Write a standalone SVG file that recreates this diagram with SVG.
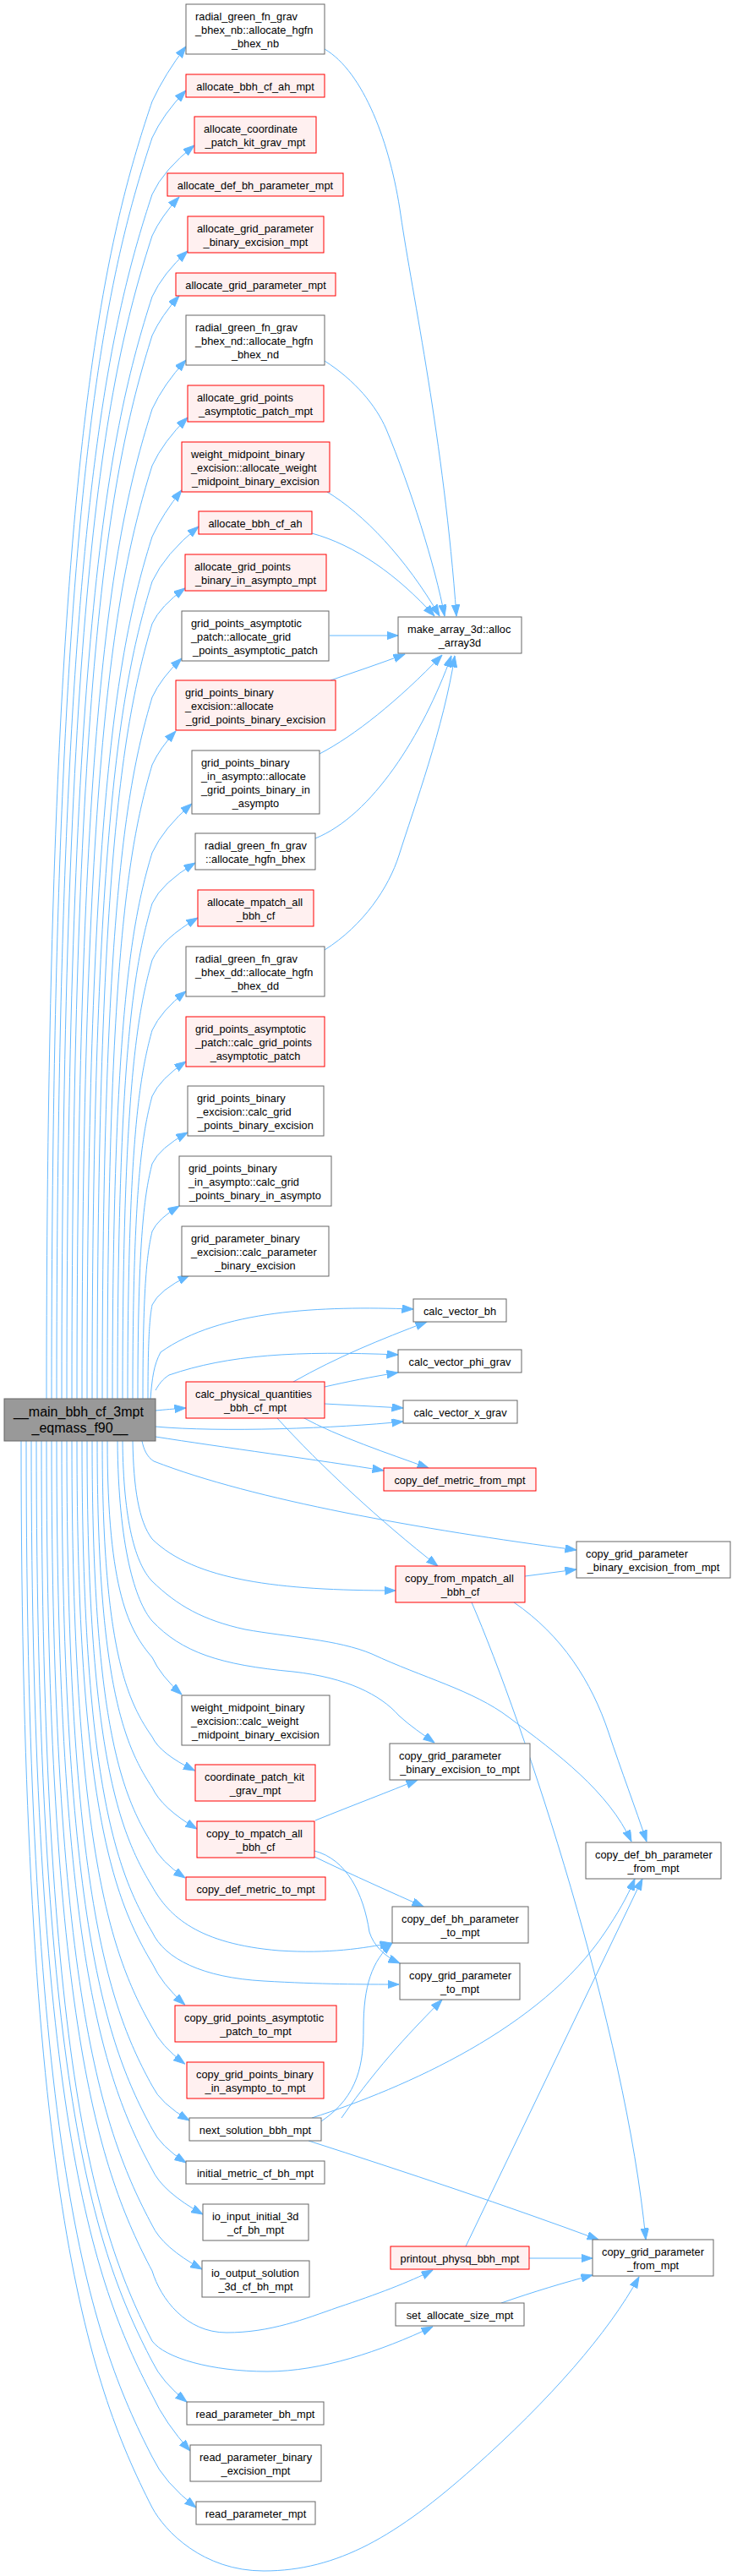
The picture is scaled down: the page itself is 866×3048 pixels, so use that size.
<svg xmlns="http://www.w3.org/2000/svg" width="866" height="3048" viewBox="0 0 866 3048">
<style>
.w{fill:#ffffff;stroke:#666666;stroke-width:1}
.r{fill:#fff0f0;stroke:#ff0000;stroke-width:1}
.m{fill:#999999;stroke:#666666;stroke-width:1}
text{font-family:"Liberation Sans",Arial,Helvetica,sans-serif;font-size:12.8px;fill:#000000}
.c{text-anchor:middle}
.big{font-size:16px}
.e path{fill:none;stroke:#63b8ff;stroke-width:1;marker-end:url(#a)}
</style>
<defs>
<marker id="a" markerWidth="14" markerHeight="10" refX="13.5" refY="4.75" orient="auto" markerUnits="userSpaceOnUse">
<path d="M0,0 L13.5,4.75 L0,9.5 z" fill="#63b8ff" stroke="#63b8ff" stroke-width="1"/>
</marker>
</defs>
<rect width="866" height="3048" fill="#ffffff"/>
<g class="e" id="edges">
<path d="M55,1655 C55,580.5 117.5,304.2 180,120 Q195,87.5 220,55"/>
<path d="M61,1655 C61,610.6 120.5,342 180,163 Q192.9,135 220,107"/>
<path d="M67,1655 C67,657.5 123.5,401 180,230 Q193.3,201 230,172"/>
<path d="M73,1655 C73,691.8 126.5,444.1 180,279 Q190.6,256 212,233"/>
<path d="M79,1655 C79,742.2 129.5,507.5 180,351 Q192.4,324 222,297"/>
<path d="M85,1655 C85,774.4 132.5,548 180,397 Q190.8,373.5 212,350"/>
<path d="M91,1655 C91,835.3 135.5,624.5 180,484 Q193.3,455 220,426"/>
<path d="M97,1655 C97,882.2 138.5,683.5 180,551 Q193.1,522.5 222,494"/>
<path d="M103,1655 C103,941 141.5,757.4 180,635 Q192.7,607.5 215,580"/>
<path d="M109,1655 C109,978.1 144.5,804 180,688 Q195,655.5 235,623"/>
<path d="M115,1655 C115,1013.1 147.5,848 180,738 Q189.7,717 219,696"/>
<path d="M121,1655 C121,1074 150.5,924.6 180,825 Q190.6,802 215,779"/>
<path d="M127,1655 C127,1130 153.5,995 180,905 Q189.2,885 208,865"/>
<path d="M133,1655 C133,1202.8 156.5,1086.5 180,1009 Q193.3,980 227,951"/>
<path d="M139,1655 C139,1244.8 159.5,1139.3 180,1069 Q191,1045 231,1021"/>
<path d="M145,1655 C145,1291.7 162.5,1198.3 180,1136 Q191.5,1111 234,1086"/>
<path d="M151,1655 C151,1349.8 165.5,1271.3 180,1219 Q190.6,1196 220,1173"/>
<path d="M157,1655 C157,1404.4 168.5,1340 180,1297 Q189.4,1276.5 220,1256"/>
<path d="M163,1655 C163,1460.4 171.5,1410.4 180,1377 Q188.5,1358.5 222,1340"/>
<path d="M169,1655 C169,1516.4 174.5,1480.8 180,1457 Q186.9,1442 212,1427"/>
<path d="M175,1655 C175,1577.3 177.5,1557.3 180,1544 Q188,1526.5 224,1509"/>
<path d="M178,1655 C180,1630 182,1615 190,1600 C260,1550 380,1545 489,1549"/>
<path d="M184,1645 C188,1638 192,1632 200,1627 C270,1603 350,1598 471,1603"/>
<path d="M184,1669 C195,1668 205,1667 220,1666"/>
<path d="M184,1688 C260,1695 400,1690 477,1682"/>
<path d="M184,1700 C260,1712 380,1728 454,1740"/>
<path d="M168,1705 C170,1715 174,1724 182,1729 C300,1775 500,1810 682,1834"/>
<path d="M157,1705 C158,1760 164,1800 180,1821 C230,1870 330,1882 468,1882"/>
<path d="M145,1705 C146,1800 160,1850 180,1871 C210,1900 240,1917 290,1928 C340,1937 400,1940 440,1957 C500,1985 560,2000 602,2032 C660,2075 720,2120 747,2179"/>
<path d="M139,1705 C140,1830 160,1895 180,1918 C215,1955 260,1970 347,1978 C410,1985 450,2005 472,2030 C485,2042 500,2052 514,2062"/>
<path d="M127,1705 C127,1884.2 153.5,1930.3 180,1961 Q190.1,1983 215,2005"/>
<path d="M121,1705 C121,1950 150.5,2013 180,2055 Q189.2,2075 230.5,2095"/>
<path d="M115,1705 C115,1992 147.5,2065.8 180,2115 Q191.3,2139.5 233,2164"/>
<path d="M109,1705 C109,2038.9 144.5,2124.8 180,2182 Q189.2,2202 219,2222"/>
<path d="M103,1705 C103,2073.9 141.5,2168.8 180,2232 C200,2268 235,2300 330,2308 C390,2312 430,2305 463,2299"/>
<path d="M97,1705 C97,2111.7 138.5,2216.3 180,2286 C195,2318 240,2340 312,2344 C380,2348 430,2348 472,2348"/>
<path d="M91,1705 C91,2137.6 135.5,2248.8 180,2323 Q191.3,2347.5 218.7,2372"/>
<path d="M85,1705 C85,2190.8 132.5,2315.7 180,2399 Q189.9,2420.5 218.7,2442"/>
<path d="M79,1705 C79,2239.1 129.5,2376.4 180,2468 Q189.4,2488.5 224,2509"/>
<path d="M73,1705 C73,2274.8 126.5,2421.3 180,2519 Q189.2,2539 220,2559"/>
<path d="M67,1705 C67,2308.4 123.5,2463.6 180,2567 Q192.2,2593.5 240,2620"/>
<path d="M61,1705 C61,2354.6 120.5,2521.6 180,2633 Q192,2659 239,2685"/>
<path d="M55,1705 C55,2392.4 117.5,2569.2 180,2687 C190,2720 220,2760 268,2760 C320,2760 360,2744 400,2730 C445,2715 485,2700 512,2686"/>
<path d="M49,1705 C49,2450.5 114.5,2642.2 180,2770 C195,2790 250,2806 316,2806 C380,2806 450,2782 512,2753"/>
<path d="M43,1705 C43,2467.3 111.5,2663.3 180,2794 Q191,2818 221,2842"/>
<path d="M37,1705 C37,2495.3 108.5,2698.5 180,2834 Q195.2,2867 225,2900"/>
<path d="M31,1705 C31,2546.4 105.5,2762.8 180,2907 Q193.8,2937 232,2967"/>
<path d="M25,1705 C25,2588.4 102.5,2815.6 180,2967 C195,2995 240,3042 312,3042 C400,3042 470,3000 560,2920 C650,2840 720,2760 756,2694"/>
<path d="M384,58 C430,85 462,170 474,254 C488,350 525,520 540,729"/>
<path d="M384,427 C420,450 445,480 457,508 C485,575 515,670 526,729"/>
<path d="M387,582 C430,608 480,660 520,729"/>
<path d="M369,631 C420,645 470,680 514,729"/>
<path d="M390,752 L471,752"/>
<path d="M391,805 C420,795 450,785 479,774"/>
<path d="M378,892 C420,870 470,830 523,775"/>
<path d="M373,992 C440,965 500,870 534,776"/>
<path d="M384,1124 C430,1095 460,1050 472,1012 C490,955 525,860 538,776"/>
<path d="M347,1635 C400,1605 450,1585 505,1564"/>
<path d="M384,1641 C410,1635 440,1629 471,1624"/>
<path d="M384,1661 L477,1666"/>
<path d="M358,1677 C400,1700 460,1720 507,1737"/>
<path d="M327,1677 C380,1735 450,1800 518,1853"/>
<path d="M621,1865 L682,1857"/>
<path d="M608,1896 C665,1935 700,1990 720,2050 C735,2095 752,2140 765,2179"/>
<path d="M558,1896 C620,2040 740,2400 764,2650"/>
<path d="M373,2154 C420,2135 460,2120 494,2106"/>
<path d="M372,2197 C420,2220 465,2240 501,2256"/>
<path d="M372,2190 C410,2200 430,2240 437,2286 C442,2302 455,2315 473,2323"/>
<path d="M380,2510 C425,2480 430,2440 430,2400 C430,2350 440,2320 464,2299"/>
<path d="M404,2506 C450,2440 490,2400 523,2366"/>
<path d="M369,2506 C480,2470 640,2400 716,2286 C730,2265 742,2245 751,2223"/>
<path d="M365,2533 C480,2570 600,2610 708,2650"/>
<path d="M551,2658 L760,2223"/>
<path d="M626,2672 L701,2672"/>
<path d="M593,2725 C630,2712 670,2700 701,2692"/>
</g>
<g id="main"><rect class="m" x="5" y="1655" width="179" height="50"/><text class="big" x="16" y="1676">__main_bbh_cf_3mpt</text><text class="c big" x="94.5" y="1695">_eqmass_f90__</text></g>
<g id="n1"><rect class="w" x="220" y="5" width="164" height="59"/><text x="231" y="23.5">radial_green_fn_grav</text><text x="231" y="39.5">_bhex_nb::allocate_hgfn</text><text class="c" x="302" y="55.5">_bhex_nb</text></g>
<g id="n2"><rect class="r" x="220" y="88" width="164" height="27"/><text class="c" x="302" y="106.5">allocate_bbh_cf_ah_mpt</text></g>
<g id="n3"><rect class="r" x="230" y="138" width="144" height="43"/><text x="241" y="156.5">allocate_coordinate</text><text class="c" x="302" y="172.5">_patch_kit_grav_mpt</text></g>
<g id="n4"><rect class="r" x="198" y="205" width="208" height="27"/><text class="c" x="302" y="223.5">allocate_def_bh_parameter_mpt</text></g>
<g id="n5"><rect class="r" x="222" y="256" width="161" height="43"/><text x="233" y="274.5">allocate_grid_parameter</text><text class="c" x="302.5" y="290.5">_binary_excision_mpt</text></g>
<g id="n6"><rect class="r" x="208" y="323" width="189" height="27"/><text class="c" x="302.5" y="341.5">allocate_grid_parameter_mpt</text></g>
<g id="n7"><rect class="w" x="220" y="373" width="164" height="59"/><text x="231" y="391.5">radial_green_fn_grav</text><text x="231" y="407.5">_bhex_nd::allocate_hgfn</text><text class="c" x="302" y="423.5">_bhex_nd</text></g>
<g id="n8"><rect class="r" x="222" y="456" width="161" height="43"/><text x="233" y="474.5">allocate_grid_points</text><text class="c" x="302.5" y="490.5">_asymptotic_patch_mpt</text></g>
<g id="n9"><rect class="r" x="215" y="523" width="175" height="59"/><text x="226" y="541.5">weight_midpoint_binary</text><text x="226" y="557.5">_excision::allocate_weight</text><text class="c" x="302.5" y="573.5">_midpoint_binary_excision</text></g>
<g id="n10"><rect class="r" x="235" y="605" width="134" height="27"/><text class="c" x="302" y="623.5">allocate_bbh_cf_ah</text></g>
<g id="n11"><rect class="r" x="219" y="656" width="167" height="43"/><text x="230" y="674.5">allocate_grid_points</text><text class="c" x="302.5" y="690.5">_binary_in_asympto_mpt</text></g>
<g id="n12"><rect class="w" x="215" y="723" width="174" height="59"/><text x="226" y="741.5">grid_points_asymptotic</text><text x="226" y="757.5">_patch::allocate_grid</text><text class="c" x="302" y="773.5">_points_asymptotic_patch</text></g>
<g id="mk"><rect class="w" x="471" y="730" width="146" height="43"/><text x="482" y="748.5">make_array_3d::alloc</text><text class="c" x="544" y="764.5">_array3d</text></g>
<g id="n13"><rect class="r" x="208" y="805" width="189" height="59"/><text x="219" y="823.5">grid_points_binary</text><text x="219" y="839.5">_excision::allocate</text><text class="c" x="302.5" y="855.5">_grid_points_binary_excision</text></g>
<g id="n14"><rect class="w" x="227" y="888" width="151" height="75"/><text x="238" y="906.5">grid_points_binary</text><text x="238" y="922.5">_in_asympto::allocate</text><text x="238" y="938.5">_grid_points_binary_in</text><text class="c" x="302.5" y="954.5">_asympto</text></g>
<g id="n15"><rect class="w" x="231" y="986" width="142" height="43"/><text x="242" y="1004.5">radial_green_fn_grav</text><text class="c" x="302" y="1020.5">::allocate_hgfn_bhex</text></g>
<g id="n16"><rect class="r" x="234" y="1053" width="137" height="43"/><text x="245" y="1071.5">allocate_mpatch_all</text><text class="c" x="302.5" y="1087.5">_bbh_cf</text></g>
<g id="n17"><rect class="w" x="220" y="1120" width="164" height="59"/><text x="231" y="1138.5">radial_green_fn_grav</text><text x="231" y="1154.5">_bhex_dd::allocate_hgfn</text><text class="c" x="302" y="1170.5">_bhex_dd</text></g>
<g id="n18"><rect class="r" x="220" y="1203" width="164" height="59"/><text x="231" y="1221.5">grid_points_asymptotic</text><text x="231" y="1237.5">_patch::calc_grid_points</text><text class="c" x="302" y="1253.5">_asymptotic_patch</text></g>
<g id="n19"><rect class="w" x="222" y="1285" width="161" height="59"/><text x="233" y="1303.5">grid_points_binary</text><text x="233" y="1319.5">_excision::calc_grid</text><text class="c" x="302.5" y="1335.5">_points_binary_excision</text></g>
<g id="n20"><rect class="w" x="212" y="1368" width="180" height="59"/><text x="223" y="1386.5">grid_points_binary</text><text x="223" y="1402.5">_in_asympto::calc_grid</text><text class="c" x="302" y="1418.5">_points_binary_in_asympto</text></g>
<g id="n21"><rect class="w" x="215" y="1451" width="174" height="59"/><text x="226" y="1469.5">grid_parameter_binary</text><text x="226" y="1485.5">_excision::calc_parameter</text><text class="c" x="302" y="1501.5">_binary_excision</text></g>
<g id="cvb"><rect class="w" x="489" y="1537" width="110" height="27"/><text class="c" x="544" y="1555.5">calc_vector_bh</text></g>
<g id="cvp"><rect class="w" x="471" y="1597" width="146" height="27"/><text class="c" x="544" y="1615.5">calc_vector_phi_grav</text></g>
<g id="cpq"><rect class="r" x="220" y="1635" width="164" height="43"/><text x="231" y="1653.5">calc_physical_quantities</text><text class="c" x="302" y="1669.5">_bbh_cf_mpt</text></g>
<g id="cvx"><rect class="w" x="477" y="1657" width="135" height="27"/><text class="c" x="544.5" y="1675.5">calc_vector_x_grav</text></g>
<g id="cdmf"><rect class="r" x="454" y="1737" width="180" height="27"/><text class="c" x="544" y="1755.5">copy_def_metric_from_mpt</text></g>
<g id="cgpbef"><rect class="w" x="682" y="1824" width="182" height="43"/><text x="693" y="1842.5">copy_grid_parameter</text><text class="c" x="773" y="1858.5">_binary_excision_from_mpt</text></g>
<g id="cfm"><rect class="r" x="468" y="1853" width="153" height="43"/><text x="479" y="1871.5">copy_from_mpatch_all</text><text class="c" x="544.5" y="1887.5">_bbh_cf</text></g>
<g id="wmc"><rect class="w" x="215" y="2006" width="175" height="59"/><text x="226" y="2024.5">weight_midpoint_binary</text><text x="226" y="2040.5">_excision::calc_weight</text><text class="c" x="302.5" y="2056.5">_midpoint_binary_excision</text></g>
<g id="cgpbet"><rect class="w" x="461" y="2063" width="166" height="43"/><text x="472" y="2081.5">copy_grid_parameter</text><text class="c" x="544" y="2097.5">_binary_excision_to_mpt</text></g>
<g id="cpk"><rect class="r" x="231" y="2088" width="142" height="43"/><text x="242" y="2106.5">coordinate_patch_kit</text><text class="c" x="302" y="2122.5">_grav_mpt</text></g>
<g id="ctm"><rect class="r" x="233" y="2155" width="139" height="43"/><text x="244" y="2173.5">copy_to_mpatch_all</text><text class="c" x="302.5" y="2189.5">_bbh_cf</text></g>
<g id="cdbf"><rect class="w" x="693" y="2180" width="160" height="43"/><text x="704" y="2198.5">copy_def_bh_parameter</text><text class="c" x="773" y="2214.5">_from_mpt</text></g>
<g id="cdmt"><rect class="r" x="220" y="2221" width="165" height="27"/><text class="c" x="302.5" y="2239.5">copy_def_metric_to_mpt</text></g>
<g id="cdbt"><rect class="w" x="464" y="2256" width="161" height="43"/><text x="475" y="2274.5">copy_def_bh_parameter</text><text class="c" x="544.5" y="2290.5">_to_mpt</text></g>
<g id="cgpt"><rect class="w" x="473" y="2323" width="142" height="43"/><text x="484" y="2341.5">copy_grid_parameter</text><text class="c" x="544" y="2357.5">_to_mpt</text></g>
<g id="cgpa"><rect class="r" x="207" y="2373" width="191" height="43"/><text x="218" y="2391.5">copy_grid_points_asymptotic</text><text class="c" x="302.5" y="2407.5">_patch_to_mpt</text></g>
<g id="cgpb"><rect class="r" x="221" y="2440" width="162" height="43"/><text x="232" y="2458.5">copy_grid_points_binary</text><text class="c" x="302" y="2474.5">_in_asympto_to_mpt</text></g>
<g id="ns"><rect class="w" x="224" y="2506" width="156" height="27"/><text class="c" x="302" y="2524.5">next_solution_bbh_mpt</text></g>
<g id="im"><rect class="w" x="220" y="2557" width="164" height="27"/><text class="c" x="302" y="2575.5">initial_metric_cf_bh_mpt</text></g>
<g id="ioi"><rect class="w" x="240" y="2608" width="125" height="43"/><text x="251" y="2626.5">io_input_initial_3d</text><text class="c" x="302.5" y="2642.5">_cf_bh_mpt</text></g>
<g id="cgpf"><rect class="w" x="701" y="2650" width="143" height="43"/><text x="712" y="2668.5">copy_grid_parameter</text><text class="c" x="772.5" y="2684.5">_from_mpt</text></g>
<g id="pp"><rect class="r" x="462" y="2658" width="164" height="27"/><text class="c" x="544" y="2676.5">printout_physq_bbh_mpt</text></g>
<g id="ioo"><rect class="w" x="239" y="2675" width="127" height="43"/><text x="250" y="2693.5">io_output_solution</text><text class="c" x="302.5" y="2709.5">_3d_cf_bh_mpt</text></g>
<g id="sas"><rect class="w" x="468" y="2725" width="152" height="27"/><text class="c" x="544" y="2743.5">set_allocate_size_mpt</text></g>
<g id="rpb"><rect class="w" x="221" y="2842" width="162" height="27"/><text class="c" x="302" y="2860.5">read_parameter_bh_mpt</text></g>
<g id="rpbe"><rect class="w" x="225" y="2893" width="155" height="43"/><text x="236" y="2911.5">read_parameter_binary</text><text class="c" x="302.5" y="2927.5">_excision_mpt</text></g>
<g id="rp"><rect class="w" x="232" y="2960" width="141" height="27"/><text class="c" x="302.5" y="2978.5">read_parameter_mpt</text></g>
</svg>
